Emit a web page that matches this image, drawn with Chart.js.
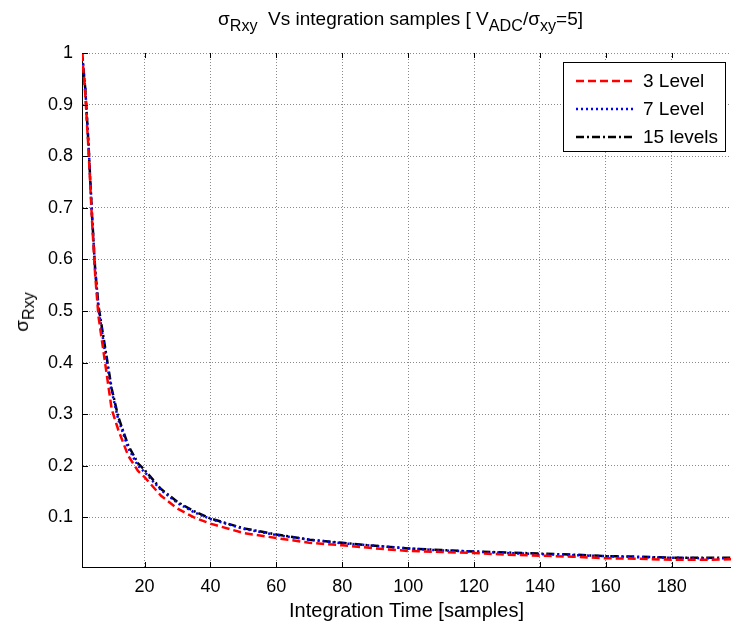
<!DOCTYPE html>
<html>
<head>
<meta charset="utf-8">
<script src="https://cdn.jsdelivr.net/npm/chart.js@4"></script>
<style>
  html, body { margin: 0; padding: 0; background: #fff; }
  #wrap { position: relative; width: 731px; height: 621px; font-family: "Liberation Sans", Arial, sans-serif; color: #000; }
  #title { position: absolute; left: 76px; width: 649px; top: 8px; text-align: center; font-size: 19px; white-space: nowrap; }
  #ylabel { position: absolute; left: 22px; top: 312px; font-size: 19px; white-space: nowrap; transform: translate(-50%, -50%) rotate(-90deg); }
  sub { font-size: 0.85em; vertical-align: -0.35em; line-height: 0; }
</style>
</head>
<body>
<div id="wrap">
  <canvas id="chart" width="731" height="621"></canvas>
  <div id="title">σ<sub>Rxy</sub>&nbsp; Vs integration samples [ V<sub>ADC</sub>/σ<sub>xy</sub>=5]</div>
  <div id="ylabel">σ<sub>Rxy</sub></div>
</div>
<script>
const samples = [1, 2, 3, 4, 5, 6, 8, 10, 12, 15, 18, 20, 25, 30, 35, 40, 50, 60, 70, 80, 90, 100, 110, 120, 130, 140, 150, 160, 170, 180, 190, 198];
const level3  = [1.0, 0.92, 0.81, 0.68, 0.57, 0.49, 0.40, 0.31, 0.27, 0.22, 0.19, 0.178, 0.142, 0.117, 0.100, 0.088, 0.070, 0.060, 0.051, 0.046, 0.040, 0.035, 0.033, 0.031, 0.028, 0.026, 0.024, 0.021, 0.020, 0.018, 0.018, 0.019];
const level7  = [1.0, 0.93, 0.82, 0.69, 0.58, 0.505, 0.42, 0.345, 0.29, 0.235, 0.20, 0.188, 0.153, 0.128, 0.110, 0.097, 0.078, 0.066, 0.057, 0.050, 0.045, 0.040, 0.036, 0.034, 0.031, 0.029, 0.027, 0.025, 0.023, 0.022, 0.021, 0.021];
const level15 = [1.0, 0.93, 0.82, 0.69, 0.58, 0.51, 0.43, 0.35, 0.295, 0.24, 0.205, 0.192, 0.155, 0.130, 0.112, 0.098, 0.079, 0.067, 0.057, 0.051, 0.045, 0.040, 0.037, 0.034, 0.032, 0.030, 0.028, 0.025, 0.024, 0.022, 0.022, 0.022];
const seriesNames = ['3 Level', '7 Level', '15 levels'];
const xTicks = [20, 40, 60, 80, 100, 120, 140, 160, 180];
const yTicks = [0.1, 0.2, 0.3, 0.4, 0.5, 0.6, 0.7, 0.8, 0.9, 1];

const FONT = '"Liberation Sans", Arial, sans-serif';

function pts(ys) {
  return samples.map((x, i) => ({ x: x, y: ys[i] }));
}

// MATLAB style inward tick marks
const innerTicks = {
  id: 'innerTicks',
  afterDraw(chart) {
    const ctx = chart.ctx, a = chart.chartArea;
    const xs = chart.scales.x, ys = chart.scales.y;
    ctx.save();
    ctx.strokeStyle = '#000';
    ctx.lineWidth = 1;
    ctx.beginPath();
    xTicks.forEach(v => {
      const px = Math.round(xs.getPixelForValue(v)) + 0.5;
      ctx.moveTo(px, a.bottom); ctx.lineTo(px, a.bottom - 5);
      ctx.moveTo(px, a.top); ctx.lineTo(px, a.top + 5);
    });
    yTicks.forEach(v => {
      const py = Math.round(ys.getPixelForValue(v)) + 0.5;
      ctx.moveTo(a.left, py); ctx.lineTo(a.left + 6, py);
    });
    ctx.stroke();
    ctx.restore();
  }
};

// boxed legend in the top right of the plot
const boxLegend = {
  id: 'boxLegend',
  afterDraw(chart) {
    const ctx = chart.ctx, a = chart.chartArea;
    const w = 162, h = 89;
    const left = a.right - 6 - w, top = a.top + 9;
    ctx.save();
    ctx.fillStyle = '#fff';
    ctx.fillRect(left, top, w, h);
    ctx.strokeStyle = '#000';
    ctx.lineWidth = 1;
    ctx.strokeRect(left + 0.5, top + 0.5, w, h);
    ctx.font = '19px ' + FONT;
    ctx.textBaseline = 'middle';
    chart.data.datasets.forEach((ds, i) => {
      const y = top + 19 + i * 28;
      ctx.beginPath();
      ctx.setLineDash(ds.borderDash);
      ctx.strokeStyle = ds.borderColor;
      ctx.lineWidth = ds.borderWidth;
      ctx.moveTo(left + 13, y);
      ctx.lineTo(left + 71, y);
      ctx.stroke();
      ctx.setLineDash([]);
      ctx.fillStyle = '#000';
      ctx.fillText(ds.label, left + 80, y + 1);
    });
    ctx.restore();
  }
};

new Chart(document.getElementById('chart'), {
  type: 'line',
  data: {
    datasets: [
      { label: seriesNames[0], data: pts(level3), borderColor: '#ff0000', borderDash: [8, 4], borderWidth: 2.5 },
      { label: seriesNames[1], data: pts(level7), borderColor: '#0000ff', borderDash: [2, 3], borderWidth: 2.5 },
      { label: seriesNames[2], data: pts(level15), borderColor: '#000000', borderDash: [8, 3, 2, 3], borderWidth: 2.5 }
    ]
  },
  options: {
    responsive: false,
    animation: false,
    events: [],
    layout: { padding: { top: 53, right: 0, left: 0, bottom: 0 } },
    elements: { point: { radius: 0 }, line: { tension: 0, fill: false } },
    plugins: { legend: { display: false }, tooltip: { enabled: false } },
    scales: {
      x: {
        type: 'linear',
        min: 1,
        max: 198,
        afterBuildTicks: s => { s.ticks = xTicks.map(v => ({ value: v })); },
        afterFit: s => { s.height = 54; },
        grid: { color: '#8a8a8a', lineWidth: 1, drawTicks: false },
        border: { display: true, color: '#000', width: 1, dash: [1, 2] },
        ticks: { color: '#000', padding: 9, maxRotation: 0, font: { family: FONT, size: 18 } },
        title: { display: true, text: 'Integration Time [samples]', color: '#000', padding: { top: 0, bottom: -2 }, font: { family: FONT, size: 20 } }
      },
      y: {
        type: 'linear',
        min: 0.004,
        max: 1,
        afterBuildTicks: s => { s.ticks = yTicks.map(v => ({ value: v })); },
        afterFit: s => { s.width = 82; },
        grid: { color: '#8a8a8a', lineWidth: 1, drawTicks: false },
        border: { display: true, color: '#000', width: 1, dash: [1, 2] },
        ticks: { color: '#000', padding: 9, font: { family: FONT, size: 18 }, callback: v => String(v) }
      }
    }
  },
  plugins: [innerTicks, boxLegend]
});
</script>
</body>
</html>
